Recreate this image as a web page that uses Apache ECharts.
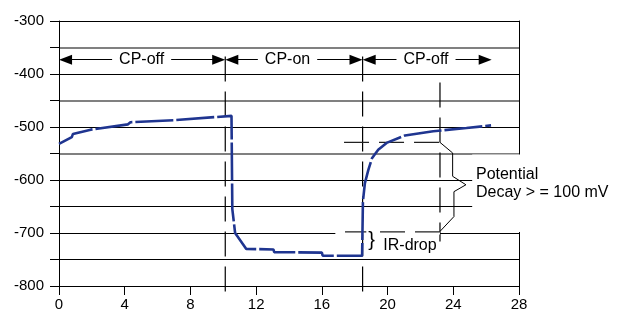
<!DOCTYPE html>
<html>
<head>
<meta charset="utf-8">
<script src="https://cdn.jsdelivr.net/npm/echarts@6/dist/echarts.min.js"></script>
<style>
html, body { margin: 0; padding: 0; background: #fff; }
#main { width: 625px; height: 312px; }
</style>
</head>
<body>
<div id="main"></div>
<script>
// axis ticks
var xTicks = [0, 4, 8, 12, 16, 20, 24, 28]
var yTicks = [-800, -700, -600, -500, -400, -300]

// measured potential (mV) against time
var potential = [
  [0, -532], [0.78, -519], [0.85, -513], [1.93, -505], [4.2, -495], [4.35, -491],
  [7.05, -487], [7.1, -484], [10.5, -479], [10.55, -481], [10.55, -655], [10.72, -700],
  [11.4, -730], [13.05, -731], [13.1, -736], [16.0, -737], [16.05, -743], [18.45, -743],
  [18.5, -640], [18.62, -606], [18.83, -581], [19.05, -559], [19.43, -543], [19.94, -530],
  [21.06, -516], [22.78, -508], [24.8, -502], [26.3, -497]
]

// switching times and the reading time
var switchTimes = [10.12, 18.48]
var readTime = 23.19
var guideTop = -367
var guideBottom = -817
var readTop = -416
var readBottom = -716

// phase arrows along the top
var arrowLevel = -373
var phaseNames = ['CP-off', 'CP-on', 'CP-off']
var phaseSpans = [[0, 10.12], [10.12, 18.48], [18.48, 26.34]]
var phaseTextX = [5.03, 13.91, 22.34]

// decay / IR-drop marks
var decayTop = -529
var irLevel = -698
var dashStart = [17.35, 17.41]
var brace = [[23.19, -529], [23.96, -549], [23.96, -593], [24.77, -609], [24.04, -622], [24.04, -669], [23.19, -697]]

var FONT = 'Liberation Sans, Arial, sans-serif'
var myChart = echarts.init(document.getElementById('main'))

function guide(data, dash, color, width) {
  return {
    type: 'line', data: data, symbol: 'none', clip: false, silent: true,
    lineStyle: { color: color, width: width, type: dash }, z: 3
  }
}

// gray lines at -550, -450, -350
var grayLines = []
for (var v = yTicks[0]; v <= yTicks[yTicks.length - 1]; v += 50) {
  grayLines.push(v === -550 || v === -450 || v === -350 ? '#808080' : 'rgba(0,0,0,0)')
}

var arrowInset = 0.4
var arrows = phaseSpans.map(function(s) {
  return [{ coord: [s[0] + arrowInset, arrowLevel] }, { coord: [s[1] - arrowInset, arrowLevel] }]
})

var series = [
  guide([[switchTimes[0], guideTop], [switchTimes[0], guideBottom]], [25, 10], '#000', 1.2),
  guide([[switchTimes[1], guideTop], [switchTimes[1], guideBottom]], [25, 10], '#000', 1.2),
  guide([[readTime, readTop], [readTime, readBottom]], [25, 10], '#000', 1.2),
  guide([[16.82, -700], [readTime, -700]], 'solid', '#fff', 3),
  guide([[dashStart[0], decayTop], [readTime, decayTop]], [25, 10], '#222', 1.2),
  guide([[dashStart[1], irLevel], [readTime, irLevel]], [25, 10], '#222', 1.2),
  guide(brace, 'solid', '#000', 1),
  {
    type: 'line',
    data: potential,
    symbol: 'none',
    z: 4,
    lineStyle: { color: '#1f3590', width: 2.6, type: [38, 3] },
    markLine: {
      silent: true,
      symbol: ['triangle', 'triangle'],
      symbolSize: [10, 13],
      label: { show: false },
      lineStyle: { color: '#000', width: 1.2, type: 'solid' },
      data: arrows
    }
  }
]

var option = {
  animation: false,
  grid: { left: 59, right: 106, top: 21, bottom: 26 },
  xAxis: {
    type: 'value',
    min: xTicks[0],
    max: xTicks[xTicks.length - 1],
    interval: xTicks[1] - xTicks[0],
    axisLine: { lineStyle: { color: '#000', width: 1 } },
    axisTick: { show: true, length: 9, lineStyle: { color: '#000' } },
    axisLabel: { color: '#000', fontSize: 15, fontFamily: FONT, margin: 11 },
    splitLine: { show: false }
  },
  yAxis: [
    {
      type: 'value',
      min: yTicks[0],
      max: yTicks[yTicks.length - 1],
      interval: yTicks[1] - yTicks[0],
      axisLine: { show: true, lineStyle: { color: '#000', width: 1 } },
      axisTick: { show: true, length: 9, lineStyle: { color: '#000' } },
      minorTick: { show: true, splitNumber: 2, length: 9, lineStyle: { color: '#000' } },
      axisLabel: { color: '#000', fontSize: 15, fontFamily: FONT, margin: 15 },
      splitLine: { show: true, lineStyle: { color: '#000', width: 1 } },
      minorSplitLine: { show: true, lineStyle: { color: '#000', width: 1 } }
    },
    {
      type: 'value',
      position: 'right',
      min: yTicks[0],
      max: yTicks[yTicks.length - 1],
      interval: 50,
      axisLine: { show: true, lineStyle: { color: '#000', width: 1 } },
      axisTick: { show: false },
      axisLabel: { show: false },
      splitLine: { show: true, lineStyle: { color: grayLines, width: 2 } }
    }
  ],
  series: series
}
myChart.setOption(option)

// text annotations placed through the axes
function px(p) { return myChart.convertToPixel({ gridIndex: 0 }, p) }
var graphics = []
var r1 = px([25.15, -552]), r2 = px([28.4, -698])
graphics.push({ type: 'rect', z: 100, shape: { x: r1[0], y: r1[1], width: r2[0] - r1[0], height: r2[1] - r1[1] }, style: { fill: '#fff' } })
phaseNames.forEach(function(name, i) {
  var p = px([phaseTextX[i], arrowLevel])
  graphics.push({
    type: 'text', z: 101, x: p[0], y: p[1],
    style: { text: name, fill: '#000', font: '16px ' + FONT, align: 'center', verticalAlign: 'middle', backgroundColor: '#fff', padding: [0, 7] }
  })
})
var pd = px([25.38, -607.5])
graphics.push({
  type: 'text', z: 101, x: pd[0], y: pd[1],
  style: { text: 'Potential\nDecay > = 100 mV', fill: '#000', font: '16px ' + FONT, lineHeight: 18, align: 'left', verticalAlign: 'middle' }
})
var pb = px([19.03, -714])
graphics.push({
  type: 'text', z: 101, x: pb[0], y: pb[1],
  style: { text: '}', fill: '#000', font: '20px ' + FONT, align: 'center', verticalAlign: 'middle', backgroundColor: '#fff', padding: [0, 2] }
})
var pi = px([19.74, -724.5])
graphics.push({
  type: 'text', z: 101, x: pi[0], y: pi[1],
  style: { text: 'IR-drop', fill: '#000', font: '16px ' + FONT, align: 'left', verticalAlign: 'middle' }
})
myChart.setOption({ graphic: graphics })
</script>
</body>
</html>
